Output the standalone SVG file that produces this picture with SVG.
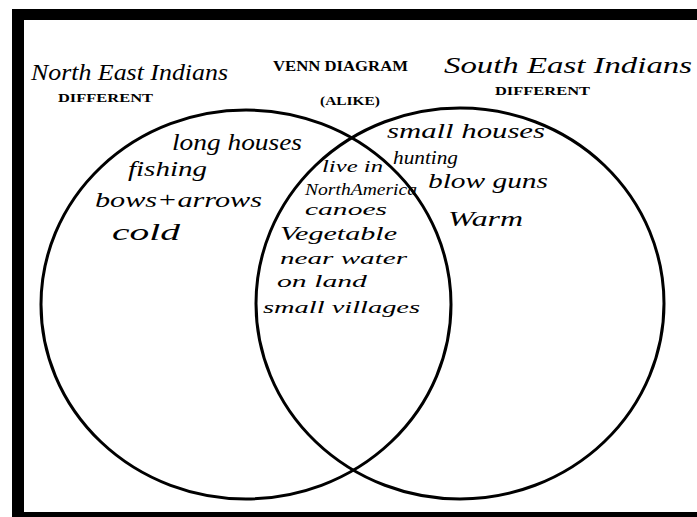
<svg xmlns="http://www.w3.org/2000/svg" width="697" height="517" viewBox="0 0 697 517">
<style>
.ring{fill:none;stroke:#000;stroke-width:3}
.print{font-family:"Liberation Serif","Times New Roman",serif;font-weight:bold;fill:#000}
.hand{font-family:"Liberation Serif","Times New Roman",serif;font-style:italic;fill:#000}
</style>
<rect width="697" height="517" fill="#fff"/>
<g id="frame" fill="#000">
<rect x="12" y="9" width="685" height="11"/>
<rect x="12" y="9" width="12" height="508"/>
<rect x="12" y="512" width="685" height="5"/>
</g>
<g id="circle-left">
<ellipse class="ring" cx="246" cy="304.5" rx="205" ry="194.5"/>
</g>
<g id="circle-right">
<ellipse class="ring" cx="460" cy="303.5" rx="204" ry="195.5"/>
</g>
<g id="connectors"></g>
<g id="titles">
<text class="print" x="273" y="71" font-size="15" textLength="135" lengthAdjust="spacingAndGlyphs">VENN DIAGRAM</text>
<text class="print" x="320" y="105" font-size="13" textLength="60" lengthAdjust="spacingAndGlyphs">(ALIKE)</text>
<text class="print" x="58" y="102" font-size="13" textLength="95" lengthAdjust="spacingAndGlyphs">DIFFERENT</text>
<text class="print" x="495" y="95" font-size="13" textLength="95" lengthAdjust="spacingAndGlyphs">DIFFERENT</text>
<text class="hand" x="31" y="80" font-size="24" textLength="197" lengthAdjust="spacingAndGlyphs">North East Indians</text>
<text class="hand" x="444" y="73" font-size="24" textLength="248" lengthAdjust="spacingAndGlyphs">South East Indians</text>
</g>
<g id="left-list">
<text class="hand" x="172" y="150" font-size="24" textLength="130" lengthAdjust="spacingAndGlyphs">long houses</text>
<text class="hand" x="128" y="176" font-size="22" textLength="79" lengthAdjust="spacingAndGlyphs">fishing</text>
<text class="hand" x="95" y="207" font-size="22" textLength="167" lengthAdjust="spacingAndGlyphs">bows+arrows</text>
<text class="hand" x="112" y="240" font-size="24" textLength="68" lengthAdjust="spacingAndGlyphs">cold</text>
</g>
<g id="middle-list">
<text class="hand" x="322" y="172" font-size="17" textLength="61" lengthAdjust="spacingAndGlyphs">live in</text>
<text class="hand" x="305" y="195" font-size="16" textLength="112" lengthAdjust="spacingAndGlyphs">NorthAmerica</text>
<text class="hand" x="305" y="215" font-size="17" textLength="82" lengthAdjust="spacingAndGlyphs">canoes</text>
<text class="hand" x="280" y="240" font-size="19" textLength="117" lengthAdjust="spacingAndGlyphs">Vegetable</text>
<text class="hand" x="280" y="264" font-size="17" textLength="127" lengthAdjust="spacingAndGlyphs">near water</text>
<text class="hand" x="277" y="287" font-size="17" textLength="90" lengthAdjust="spacingAndGlyphs">on land</text>
<text class="hand" x="263" y="313" font-size="16" textLength="157" lengthAdjust="spacingAndGlyphs">small villages</text>
</g>
<g id="right-list">
<text class="hand" x="387" y="138" font-size="21" textLength="158" lengthAdjust="spacingAndGlyphs">small houses</text>
<text class="hand" x="393" y="164" font-size="18" textLength="65" lengthAdjust="spacingAndGlyphs">hunting</text>
<text class="hand" x="428" y="188" font-size="20" textLength="120" lengthAdjust="spacingAndGlyphs">blow guns</text>
<text class="hand" x="448" y="226" font-size="22" textLength="75" lengthAdjust="spacingAndGlyphs">Warm</text>
</g>
</svg>
